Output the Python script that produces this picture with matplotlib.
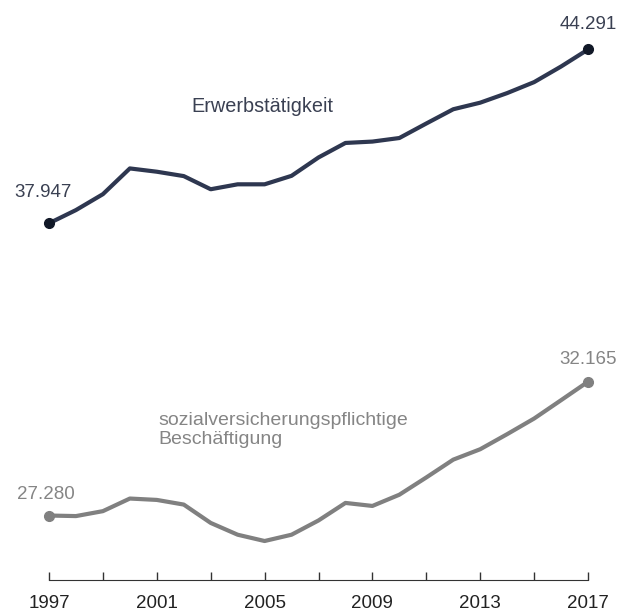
# Erwerbstätigkeit vs. sozialversicherungspflichtige Beschäftigung, 1997-2017 (in Tsd.)

import numpy as np
import matplotlib.pyplot as plt

plt.rcParams['font.family'] = ['Liberation Sans', 'DejaVu Sans']

# Data
years = np.arange(1997, 2018)
erwerb = [37.947, 38.43, 39.01, 39.95, 39.83, 39.67, 39.19, 39.37, 39.37, 39.68,
          40.35, 40.88, 40.93, 41.06, 41.59, 42.11, 42.35, 42.70, 43.10, 43.67, 44.291]
svb = [27.280, 27.26, 27.44, 27.90, 27.85, 27.68, 27.01, 26.58, 26.35, 26.58,
       27.10, 27.74, 27.63, 28.04, 28.67, 29.32, 29.70, 30.25, 30.82, 31.49, 32.165]
label_years = [1997, 2001, 2005, 2009, 2013, 2017]

c_top = '#2e3750'
c_top_dot = '#111827'
c_top_txt = '#3a4052'
c_bot = '#808080'
c_bot_txt = '#858585'

fig = plt.figure(figsize=(6.31, 6.13), dpi=100)
ax = fig.add_axes([0, 33 / 613, 1, 580 / 613])

ax.plot(years, erwerb, color=c_top, lw=3, solid_capstyle='round', solid_joinstyle='round')
ax.plot([years[0], years[-1]], [erwerb[0], erwerb[-1]], 'o', color=c_top_dot, ms=7)
ax.plot(years, svb, color=c_bot, lw=3, solid_capstyle='round', solid_joinstyle='round')
ax.plot([years[0], years[-1]], [svb[0], svb[-1]], 'o', color=c_bot, ms=7)

# value labels at the end points
fmt = lambda v: f"{v:.3f}"
ax.annotate(fmt(erwerb[0]), (years[0], erwerb[0]), xytext=(-4, 22), textcoords='offset points',
            ha='center', va='center', fontsize=13.5, color=c_top_txt)
ax.annotate(fmt(erwerb[-1]), (years[-1], erwerb[-1]), xytext=(0, 18), textcoords='offset points',
            ha='center', va='center', fontsize=13.5, color=c_top_txt)
ax.annotate(fmt(svb[0]), (years[0], svb[0]), xytext=(-2, 15), textcoords='offset points',
            ha='center', va='center', fontsize=13.5, color=c_bot_txt)
ax.annotate(fmt(svb[-1]), (years[-1], svb[-1]), xytext=(0, 16), textcoords='offset points',
            ha='center', va='center', fontsize=13.5, color=c_bot_txt)

# series labels
fig.text(191 / 631, 1 - 107 / 613, "Erwerbstätigkeit", ha='left', va='center',
         fontsize=14.3, color=c_top_txt)
fig.text(158 / 631, 1 - 430 / 613, "sozialversicherungspflichtige\nBeschäftigung", ha='left',
         va='center', fontsize=14, color=c_bot_txt, linespacing=1.15)

# scales: 1997 at x=49px, 2017 at x=588px
px_yr = (588 - 49) / 20
ax.set_xlim(1997 - 49 / px_yr, 2017 + (631 - 588) / px_yr)
px_v = (223.3 - 49.5) / (erwerb[-1] - erwerb[0])
y_base = erwerb[0] - (580 - 223.3) / px_v
ax.set_ylim(y_base, y_base + 580 / px_v)

for s in ['top', 'right', 'left']:
    ax.spines[s].set_visible(False)
ax.spines['bottom'].set_bounds(1997, 2017)
ax.spines['bottom'].set_color('#333333')
ax.set_yticks([])
ticks = list(range(1997, 2018, 2))
ax.set_xticks(ticks)
ax.set_xticklabels([str(t) if t in label_years else '' for t in ticks])
ax.tick_params(axis='x', direction='in', length=6, width=1, color='#333333',
               labelsize=13.5, labelcolor='#222222', pad=11)
ax.patch.set_alpha(0)

fig.savefig('out.png', dpi=100)
